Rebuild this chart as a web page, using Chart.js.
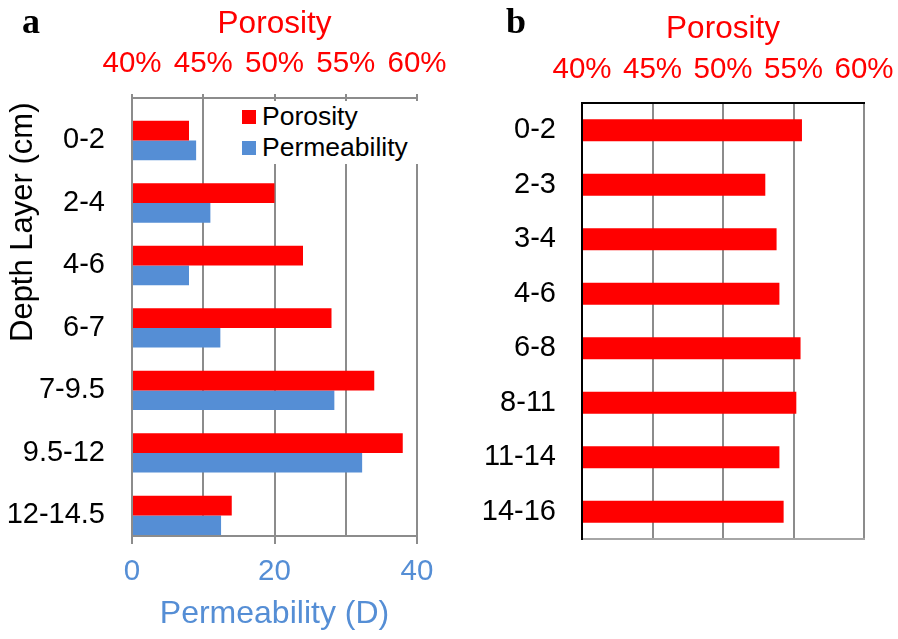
<!DOCTYPE html>
<html>
<head>
<meta charset="utf-8">
<script src="https://cdn.jsdelivr.net/npm/chart.js@4"></script>
<style>
  body { margin: 0; background: #fff; font-family: "Liberation Sans", Arial, sans-serif; }
  #wrap { position: relative; width: 898px; height: 639px; }
  canvas { position: absolute; top: 0; }
  .panel { position: absolute; top: 3px; font: bold 36px "Liberation Serif", "Times New Roman", serif; line-height: 36px; }
  #ytitle { position: absolute; left: 6px; top: 342px; transform-origin: 0 0; transform: rotate(-90deg);
            font-size: 31px; line-height: 31px; white-space: nowrap; }
  #legend { position: absolute; left: 236px; top: 101px; width: 184px; height: 63px; background: #fff; }
  #legend div { height: 31px; display: flex; align-items: center; font-size: 26.5px; }
  #legend span { display: inline-block; width: 14px; height: 14px; margin: 0 6px 0 6px; }
</style>
</head>
<body>
<div id="wrap">
  <canvas id="chartA" width="449" height="639" style="left:0"></canvas>
  <canvas id="chartB" width="449" height="639" style="left:449px"></canvas>
  <div class="panel" style="left:22px">a</div>
  <div class="panel" style="left:506px">b</div>
  <div id="ytitle">Depth Layer (cm)</div>
  <div id="legend"></div>
</div>
<script>
const depthA = ["0-2", "2-4", "4-6", "6-7", "7-9.5", "9.5-12", "12-14.5"];
const porosityA = [44, 50, 52, 54, 57, 59, 47];
const permeabilityA = [9, 11, 8, 12.4, 28.4, 32.3, 12.5];

const depthB = ["0-2", "2-3", "3-4", "4-6", "6-8", "8-11", "11-14", "14-16"];
const porosityB = [55.6, 53.0, 53.8, 54.0, 55.5, 55.2, 54.0, 54.3];

const RED = "#FF0000";
const BLUE = "#558ED5";
const GRID = "#8c8c8c";
const FONT = "'Liberation Sans', Arial, sans-serif";

// fixed axis box sizes, and no extra room asked for the edge tick labels
const fitTo = (w, h) => (scale) => {
  if (w) scale.width = w;
  if (h) scale.height = h;
  scale.paddingLeft = 0;
  scale.paddingRight = 0;
};

const datasetsA = [
  {
    label: "Porosity",
    data: porosityA.map((v, i) => ({ x: v, y: i })),
    xAxisID: "x2",
    backgroundColor: RED,
  },
  {
    label: "Permeability",
    data: permeabilityA.map((v, i) => ({ x: v, y: i })),
    xAxisID: "x",
    backgroundColor: BLUE,
  }
];

// legend drawn as html box so it can sit over the plot with a white back
document.getElementById("legend").innerHTML = datasetsA
  .map(d => `<div><span style="background:${d.backgroundColor}"></span>${d.label}</div>`)
  .join("");

new Chart(document.getElementById("chartA"), {
  type: "bar",
  data: { datasets: datasetsA },
  options: {
    responsive: false,
    animation: false,
    indexAxis: "y",
    categoryPercentage: 0.63,
    barPercentage: 1.0,
    layout: { padding: { left: 0, right: 32, top: 0, bottom: 0 } },
    plugins: { legend: { display: false }, tooltip: { enabled: false } },
    scales: {
      y: {
        type: "linear",
        position: "left",
        reverse: true,
        offset: false,
        bounds: "data",
        min: -0.68,
        max: 6.33,
        afterBuildTicks: (scale) => { scale.ticks = depthA.map((_, i) => ({ value: i })); },
        afterFit: (scale) => { scale.width = 132; },
        ticks: { callback: (v) => depthA[v], color: "#000", padding: 27, font: { family: FONT, size: 29 } },
        grid: { display: false, drawTicks: false },
        border: { color: GRID, width: 2, z: 1 },
      },
      x: {
        type: "linear",
        position: "bottom",
        min: 0,
        max: 40,
        afterFit: fitTo(0, 103),
        ticks: { stepSize: 20, color: BLUE, padding: 10, font: { family: FONT, size: 29.5 } },
        grid: { drawOnChartArea: false, tickLength: 8, color: GRID, lineWidth: 2 },
        border: { color: GRID, width: 2 },
        title: { display: true, text: "Permeability (D)", color: BLUE, padding: { top: 0, bottom: 6 }, font: { family: FONT, size: 32 } },
      },
      x2: {
        type: "linear",
        position: "top",
        min: 40,
        max: 60,
        afterFit: fitTo(0, 98),
        ticks: { stepSize: 5, callback: (v) => v + "%", color: RED, padding: 12, font: { family: FONT, size: 29.5 } },
        grid: { tickLength: 4, color: GRID, lineWidth: 2 },
        border: { color: GRID, width: 2 },
        title: { display: true, text: "Porosity", color: RED, padding: { top: 5, bottom: 0 }, font: { family: FONT, size: 31.5 } },
      }
    }
  }
});

new Chart(document.getElementById("chartB"), {
  type: "bar",
  data: {
    labels: depthB,
    datasets: [{ label: "Porosity", data: porosityB, xAxisID: "x", backgroundColor: RED }]
  },
  options: {
    responsive: false,
    animation: false,
    indexAxis: "y",
    categoryPercentage: 0.8,
    barPercentage: 0.5,
    layout: { padding: { left: 0, right: 34, top: 0, bottom: 0 } },
    plugins: { legend: { display: false }, tooltip: { enabled: false } },
    scales: {
      y: {
        position: "left",
        afterFit: (scale) => { scale.width = 133; },
        ticks: { color: "#000", padding: 26, font: { family: FONT, size: 29 } },
        grid: { display: false, drawTicks: false },
        border: { color: "#000", width: 2, z: 1 },
      },
      x: {
        type: "linear",
        position: "top",
        min: 40,
        max: 60,
        afterFit: fitTo(0, 103),
        ticks: { stepSize: 5, callback: (v) => v + "%", color: RED, padding: 15, font: { family: FONT, size: 29.5 } },
        grid: { drawTicks: false, color: GRID, lineWidth: 2 },
        border: { color: "#000", width: 2 },
        title: { display: true, text: "Porosity", color: RED, padding: { top: 10, bottom: 0 }, font: { family: FONT, size: 31.5 } },
      },
      xb: {
        type: "linear",
        position: "bottom",
        afterFit: fitTo(0, 100),
        ticks: { display: false },
        grid: { display: false, drawTicks: false },
        border: { color: "#a6a6a6", width: 2 },
      }
    }
  }
});
</script>
</body>
</html>
